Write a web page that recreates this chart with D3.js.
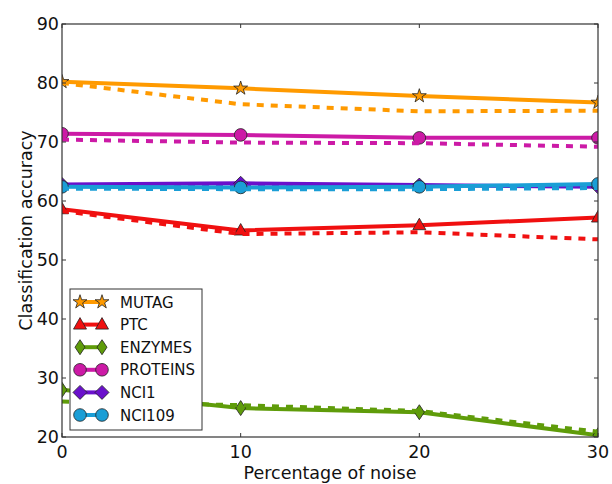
<!DOCTYPE html>
<html>
<head>
<meta charset="utf-8">
<script src="https://cdn.jsdelivr.net/npm/d3@7"></script>
<style>
body { margin:0; background:#fff; font-family:"DejaVu Sans", sans-serif; }
</style>
</head>
<body>
<svg id="chart" width="612" height="484"></svg>
<script>
// noise levels (x)
var noise = [0, 10, 20, 30]
var names = ["MUTAG", "PTC", "ENZYMES", "PROTEINS", "NCI1", "NCI109"]
var colors = ["#ff9a00", "#f01010", "#5f9c0a", "#cc1aa6", "#6a10cc", "#1a9ed6"]
var shapes = ["star", "triangle", "thin", "circle", "diamond", "circle"]
// solid lines (with markers)
var solid = [
  [80.2, 79.1, 77.8, 76.7],
  [58.6, 55.0, 55.9, 57.2],
  [28.0, 24.9, 24.2, 20.3],
  [71.4, 71.2, 70.7, 70.7],
  [62.8, 63.0, 62.7, 62.4],
  [62.4, 62.3, 62.4, 62.9]
]
// dashed lines
var dashed = [
  [80.0, 76.4, 75.2, 75.3],
  [58.3, 54.4, 54.7, 53.5],
  [26.0, 25.4, 24.4, 20.9],
  [70.4, 69.9, 69.8, 69.2],
  [62.6, 62.5, 62.4, 62.2],
  [62.1, 62.0, 62.0, 62.2]
]
var xTicks = [0, 10, 20, 30]
var yTicks = [20, 30, 40, 50, 60, 70, 80, 90]

var svg = d3.select("#chart")
var L = 62, R = 598, T = 24, B = 437

var x = d3.scaleLinear().domain([0, 30]).range([L, R])
var y = d3.scaleLinear().domain([20, 90]).range([B, T])

svg.append("clipPath").attr("id", "clip")
  .append("rect").attr("x", L).attr("y", T).attr("width", R - L).attr("height", B - T)

function markerPath(s) {
  if (s == "star") return d3.symbol().type(d3.symbolStar).size(60)()
  if (s == "triangle") return "M0,-7L6.5,4.5L-6.5,4.5Z"
  if (s == "thin") return "M0,-7.5L5,0L0,7.5L-5,0Z"
  if (s == "diamond") return "M0,-7L7,0L0,7L-7,0Z"
  return d3.symbol().type(d3.symbolCircle).size(125)()
}

var plot = svg.append("g").attr("clip-path", "url(#clip)")
var line = d3.line().x(function(d, i) { return x(noise[i]) }).y(function(d) { return y(d) })

names.forEach(function(n, k) {
  plot.append("path").attr("d", line(solid[k]))
    .attr("fill", "none").attr("stroke", colors[k]).attr("stroke-width", 4)
    .attr("stroke-linejoin", "round")
  plot.selectAll(null).data(solid[k]).enter().append("path")
    .attr("d", markerPath(shapes[k]))
    .attr("transform", function(d, i) { return "translate(" + x(noise[i]) + "," + y(d) + ")" })
    .attr("fill", colors[k]).attr("stroke", "#222").attr("stroke-width", 0.8)
  plot.append("path").attr("d", line(dashed[k]))
    .attr("fill", "none").attr("stroke", colors[k]).attr("stroke-width", 4)
    .attr("stroke-dasharray", "7,7")
})

// frame
svg.append("rect").attr("x", L).attr("y", T).attr("width", R - L).attr("height", B - T)
  .attr("fill", "none").attr("stroke", "#333").attr("stroke-width", 1.2)

// ticks, all four sides pointing in
var ax = svg.append("g").attr("stroke", "#333").attr("stroke-width", 1)
xTicks.forEach(function(t) {
  ax.append("line").attr("x1", x(t)).attr("x2", x(t)).attr("y1", B).attr("y2", B - 4)
  ax.append("line").attr("x1", x(t)).attr("x2", x(t)).attr("y1", T).attr("y2", T + 4)
})
yTicks.forEach(function(t) {
  ax.append("line").attr("x1", L).attr("x2", L + 4).attr("y1", y(t)).attr("y2", y(t))
  ax.append("line").attr("x1", R).attr("x2", R - 4).attr("y1", y(t)).attr("y2", y(t))
})

var txt = svg.append("g").attr("fill", "#111").attr("font-size", 17.5)
xTicks.forEach(function(t) {
  txt.append("text").attr("x", x(t)).attr("y", 458).attr("text-anchor", "middle").text(t)
})
yTicks.forEach(function(t) {
  txt.append("text").attr("x", L - 3).attr("y", y(t) + 6).attr("text-anchor", "end").text(t)
})
txt.append("text").attr("x", (L + R) / 2).attr("y", 479).attr("text-anchor", "middle")
  .attr("font-size", 17.5).text("Percentage of noise")
txt.append("text").attr("transform", "translate(32," + ((T + B) / 2) + ") rotate(-90)")
  .attr("text-anchor", "middle").attr("font-size", 17.5).text("Classification accuracy")

// legend
var lg = svg.append("g")
lg.append("rect").attr("x", 70).attr("y", 289).attr("width", 132).attr("height", 141)
  .attr("fill", "#fff").attr("stroke", "#333").attr("stroke-width", 1)
names.forEach(function(n, k) {
  var yy = 302 + k * 22.6
  lg.append("line").attr("x1", 80).attr("x2", 102).attr("y1", yy).attr("y2", yy)
    .attr("stroke", colors[k]).attr("stroke-width", 4)
  ;[80, 102].forEach(function(mx) {
    lg.append("path").attr("d", markerPath(shapes[k]))
      .attr("transform", "translate(" + mx + "," + yy + ")")
      .attr("fill", colors[k]).attr("stroke", "#222").attr("stroke-width", 0.8)
  })
  lg.append("text").attr("x", 120).attr("y", yy + 5.5).attr("font-size", 15)
    .attr("fill", "#111").text(n)
})
</script>
</body>
</html>
